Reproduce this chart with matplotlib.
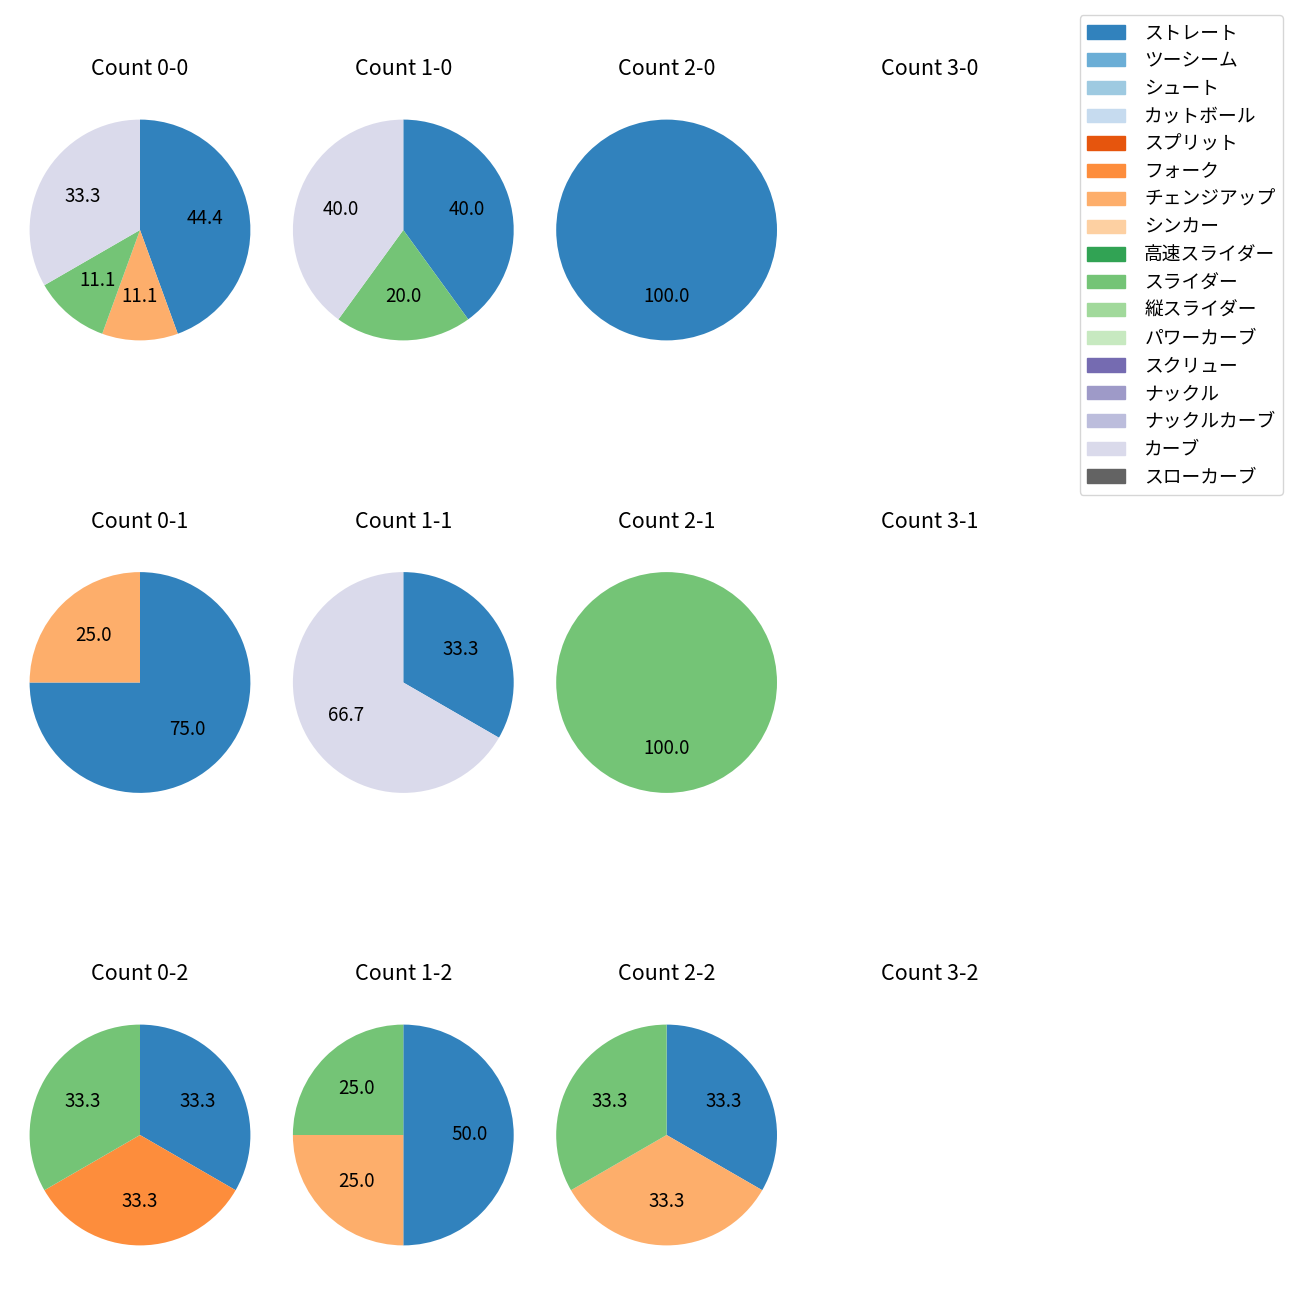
import numpy as np
import matplotlib.pyplot as plt
from matplotlib.patches import Patch

plt.rcParams['font.family'] = ['Noto Sans CJK JP', 'DejaVu Sans']

# pitch types, in legend order
pitch_types = ['ストレート', 'ツーシーム', 'シュート', 'カットボール', 'スプリット', 'フォーク',
               'チェンジアップ', 'シンカー', '高速スライダー', 'スライダー', '縦スライダー',
               'パワーカーブ', 'スクリュー', 'ナックル', 'ナックルカーブ', 'カーブ', 'スローカーブ']
colors = plt.get_cmap('tab20c').colors[:16] + ((0.388, 0.388, 0.388),)

balls = [0, 1, 2, 3]
strikes = [0, 1, 2]

# number of pitches of each type per ball-strike count
count_0_0 = {'ストレート': 4, 'チェンジアップ': 1, 'スライダー': 1, 'カーブ': 3}
count_1_0 = {'ストレート': 2, 'スライダー': 1, 'カーブ': 2}
count_2_0 = {'ストレート': 1}
count_0_1 = {'ストレート': 3, 'チェンジアップ': 1}
count_1_1 = {'ストレート': 1, 'カーブ': 2}
count_2_1 = {'スライダー': 1}
count_0_2 = {'ストレート': 1, 'フォーク': 1, 'スライダー': 1}
count_1_2 = {'ストレート': 2, 'チェンジアップ': 1, 'スライダー': 1}
count_2_2 = {'ストレート': 1, 'チェンジアップ': 1, 'スライダー': 1}

data = {(0, 0): count_0_0, (1, 0): count_1_0, (2, 0): count_2_0,
        (0, 1): count_0_1, (1, 1): count_1_1, (2, 1): count_2_1,
        (0, 2): count_0_2, (1, 2): count_1_2, (2, 2): count_2_2}

fig = plt.figure(figsize=(13, 13), dpi=100)

W = 1300.0
box = 276.0
for s in strikes:
    for b in balls:
        cx = 140 + 263.3 * b
        cy = 230 + 452.5 * s
        ax = fig.add_axes([(cx - box / 2) / W, 1 - (cy + box / 2) / W, box / W, box / W])
        ax.set_title(f'Count {b}-{s}', fontsize=15.5, pad=12)
        d = data.get((b, s), {})
        vals = [d[p] for p in pitch_types if d.get(p, 0) > 0]
        cols = [colors[i] for i, p in enumerate(pitch_types) if d.get(p, 0) > 0]
        if vals:
            ax.pie(vals, colors=cols, startangle=90, counterclock=False,
                   autopct='%.1f', textprops={'fontsize': 13.5})
        else:
            ax.set_axis_off()

handles = [Patch(color=c, label=p) for p, c in zip(pitch_types, colors)]
fig.legend(handles=handles, loc='upper right', bbox_to_anchor=(1283 / W, 1 - 15 / W),
           borderaxespad=0, fontsize=13.5, labelspacing=0.36, handletextpad=1.05)

fig.savefig('out.png')
